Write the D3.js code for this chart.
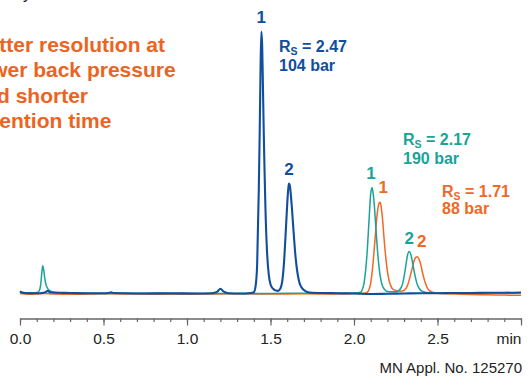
<!DOCTYPE html>
<html>
<head>
<meta charset="utf-8">
<script src="https://cdn.jsdelivr.net/npm/d3@7"></script>
<style>
  body { margin: 0; background: #fff; }
  svg { display: block; font-family: "Liberation Sans", Arial, Helvetica, sans-serif; }
</style>
</head>
<body>
<div id="chart"></div>
<script>
// retention time (min) vs detector signal (relative units)

// 104 bar column (blue)
const blueTime = [0.00, 0.01, 0.03, 0.06, 0.10, 0.14, 0.155, 0.165, 0.18, 0.21, 0.30, 0.40, 0.50, 0.53, 0.545, 0.56, 0.62, 0.75, 0.90, 1.05, 1.15, 1.18, 1.20, 1.22, 1.25, 1.32, 1.38,
  1.40, 1.41, 1.42, 1.43, 1.435, 1.44, 1.445, 1.45, 1.455, 1.46, 1.465, 1.47, 1.48, 1.49, 1.50, 1.51, 1.52, 1.53, 1.545,
  1.56, 1.57, 1.58, 1.59, 1.60, 1.605, 1.61, 1.615, 1.62, 1.63, 1.64, 1.65, 1.66, 1.67, 1.68, 1.69, 1.70, 1.72, 1.75, 1.80,
  1.90, 2.00, 2.10, 2.20, 2.30, 2.40, 2.50, 2.60, 2.70, 2.80, 2.90, 3.00];
const blueSignal = [0.9, 0.4, 0.2, 0.1, 0.1, 0.3, 0.6, 1.0, 0.5, 0.3, 0.2, 0.1, 0.1, 0.2, 0.5, 0.2, 0.1, 0.0, 0.1, 0.0, 0.1, 0.6, 1.8, 0.7, 0.1, 0.0, 0.2,
  0.5, 2.5, 11, 40, 60, 84, 100, 95, 78, 60, 45, 32, 15, 7, 3.5, 2.2, 1.6, 1.2, 1.0,
  2.0, 4.5, 11, 22, 34, 39, 42, 41.5, 39, 31, 22, 14, 8.5, 5, 3, 2, 1.3, 0.6, 0.3, 0.2,
  0.1, 0.0, -0.2, -0.1, 0.0, 0.1, 0.1, 0.2, 0.2, 0.3, 0.3, 0.4];

// 190 bar column (teal)
const tealTime = [0.00, 0.02, 0.05, 0.08, 0.10, 0.115, 0.12, 0.125, 0.13, 0.136, 0.142, 0.148, 0.155, 0.165, 0.175, 0.19, 0.22, 0.25, 0.35, 0.50, 0.70, 0.90, 1.10, 1.30, 1.50, 1.70, 1.90, 2.00,
  2.04, 2.05, 2.06, 2.07, 2.08, 2.09, 2.10, 2.108, 2.115, 2.12, 2.13, 2.14, 2.15, 2.16, 2.17, 2.18, 2.19, 2.20, 2.23, 2.255,
  2.28, 2.29, 2.30, 2.31, 2.32, 2.331, 2.34, 2.35, 2.36, 2.37, 2.38, 2.39, 2.40, 2.42, 2.45, 2.50, 2.60, 2.70, 2.80, 2.90, 3.00];
const tealSignal = [0.7, 0.4, 0.3, 0.3, 0.4, 1.0, 2, 4, 7.5, 10.6, 9, 6, 3.5, 2, 1.2, 0.7, 0.4, 0.2, 0.1, 0.0, 0.1, 0.0, 0.0, 0.0, 0.0, 0.1, 0.1, 0.2,
  0.5, 1.5, 4, 9, 17, 28, 38, 40.5, 38, 35, 26, 17, 10, 5.5, 3, 1.8, 1.1, 0.8, 0.7, 0.7,
  2, 3.5, 6.5, 10.5, 14.5, 16, 15, 12, 8.5, 5.5, 3.2, 2, 1.2, 0.6, 0.3, 0.2, 0.1, 0.1, 0.2, 0.2, 0.3];

// 88 bar column (orange)
const orangeTime = [0.00, 0.05, 0.10, 0.15, 0.20, 0.35, 0.50, 0.70, 0.90, 1.10, 1.30, 1.50, 1.70, 1.90, 2.00, 2.06,
  2.08, 2.09, 2.10, 2.11, 2.12, 2.13, 2.14, 2.15, 2.156, 2.16, 2.17, 2.18, 2.19, 2.20, 2.21, 2.22, 2.23, 2.24, 2.26, 2.28, 2.30,
  2.32, 2.33, 2.34, 2.35, 2.36, 2.37, 2.379, 2.39, 2.40, 2.41, 2.42, 2.43, 2.44, 2.45, 2.47, 2.50, 2.60, 2.70, 2.80, 2.90, 3.00];
const orangeSignal = [0.0, -0.3, -0.2, 0.0, -0.2, -0.3, -0.1, -0.2, -0.3, -0.2, -0.1, -0.2, -0.1, -0.2, 0.0, 0.1,
  0.5, 1.5, 4, 9, 16, 24, 31, 34.5, 34.8, 34, 29, 21, 14, 8.5, 5, 3, 1.8, 1.4, 1.0, 0.9, 1.2,
  3, 5, 7.5, 10, 12.5, 13.8, 14, 13, 11, 8, 5.5, 3.5, 2, 1.2, 0.5, 0.1, -0.2, -0.4, -0.5, -0.6, -0.7];

const tickValues = [0, 0.5, 1.0, 1.5, 2.0, 2.5, 3.0];
const tickLabels = ["0.0", "0.5", "1.0", "1.5", "2.0", "2.5", "min"];

const blue = "#114e9b", teal = "#1aa398", orange = "#ee6925";

const width = 532, height = 376;

const svg = d3.select("#chart")
  .append("svg")
  .attr("width", width)
  .attr("height", height);

const x = d3.scaleLinear().domain([0, 3]).range([20, 521]);
const y = d3.scaleLinear().domain([0, 100]).range([293.5, 31.5]);

// cut-off line of text at the very top
svg.append("text")
  .attr("x", 14).attr("y", -1.5)
  .attr("font-size", 16).attr("fill", "#222")
  .text("by column");

// orange headline, cut at the left edge
const headline = ["Better resolution at", "lower back pressure", "and shorter", "retention time"];
svg.append("g").selectAll("text")
  .data(headline)
  .enter()
  .append("text")
    .attr("x", -27.5)
    .attr("y", (d, i) => 51.5 + i * 25.5)
    .attr("font-size", 21)
    .attr("font-weight", "bold")
    .attr("fill", "#ec6422")
    .text(d => d);

// axis
const axis = svg.append("g")
  .attr("transform", "translate(0,318.5)");
axis.append("g")
  .call(d3.axisBottom(x).tickValues(d3.range(0, 31).map(d => d / 10)).tickSize(3.5).tickSizeOuter(0).tickFormat(""))
  .call(g => g.select(".domain").attr("stroke", "#666").attr("stroke-width", 1.3));
const major = axis.append("g")
  .call(d3.axisBottom(x).tickValues(tickValues).tickSize(7).tickSizeOuter(0).tickFormat((d, i) => tickLabels[i]))
  .call(g => g.select(".domain").remove());
axis.selectAll(".tick line").attr("stroke", "#666").attr("stroke-width", 1.2);
major.selectAll(".tick text")
  .attr("fill", "#222")
  .attr("font-size", 15.5)
  .attr("font-family", "'Liberation Sans', Arial, sans-serif")
  .attr("y", 14.5)
  .attr("text-anchor", (d, i) => i === tickLabels.length - 1 ? "end" : "middle");

svg.append("text")
  .attr("x", 522).attr("y", 372.5)
  .attr("text-anchor", "end")
  .attr("font-size", 15)
  .attr("fill", "#222")
  .text("MN Appl. No. 125270");

// traces
const line = d3.line()
  .x(d => x(d[0]))
  .y(d => y(d[1]))
  .curve(d3.curveMonotoneX);

const traces = [
  { t: orangeTime, s: orangeSignal, color: orange, w: 1.5 },
  { t: tealTime, s: tealSignal, color: teal, w: 1.5 },
  { t: blueTime, s: blueSignal, color: blue, w: 2.1 }
];
traces.forEach(tr => {
  svg.append("path")
    .datum(tr.t.map((d, i) => [d, tr.s[i]]))
    .attr("fill", "none")
    .attr("stroke", tr.color)
    .attr("stroke-width", tr.w)
    .attr("stroke-linejoin", "round")
    .attr("d", line);
});

// peak numbers
const peakLabels = [
  { t: 1.445, v: 100, dy: -9, text: "1", color: blue },
  { t: 1.611, v: 42, dy: -8, text: "2", color: blue },
  { t: 2.102, v: 40.5, dy: -8, text: "1", color: teal },
  { t: 2.175, v: 34.8, dy: -9, text: "1", color: orange },
  { t: 2.33, v: 16, dy: -8, text: "2", color: teal },
  { t: 2.405, v: 14, dy: -10, text: "2", color: orange }
];
svg.append("g").selectAll("text")
  .data(peakLabels)
  .enter()
  .append("text")
    .attr("x", d => x(d.t))
    .attr("y", d => y(d.v) + d.dy)
    .attr("text-anchor", "middle")
    .attr("font-size", 17)
    .attr("font-weight", "bold")
    .attr("fill", d => d.color)
    .text(d => d.text);

// resolution / pressure notes
const notes = [
  { x: 279, y: 52, rs: "2.47", bar: "104 bar", gap: 19, color: blue },
  { x: 403, y: 145, rs: "2.17", bar: "190 bar", gap: 19, color: teal },
  { x: 442, y: 196.5, rs: "1.71", bar: "88 bar", gap: 17, color: orange }
];
notes.forEach(n => {
  const g = svg.append("g")
    .attr("font-size", 16)
    .attr("font-weight", "bold")
    .attr("fill", n.color);
  const t = g.append("text").attr("x", n.x).attr("y", n.y);
  t.append("tspan").text("R");
  t.append("tspan").attr("font-size", 10.5).attr("dy", 3).text("S");
  t.append("tspan").attr("dy", -3).text(" = " + n.rs);
  g.append("text").attr("x", n.x).attr("y", n.y + n.gap).text(n.bar);
});
</script>
</body>
</html>
